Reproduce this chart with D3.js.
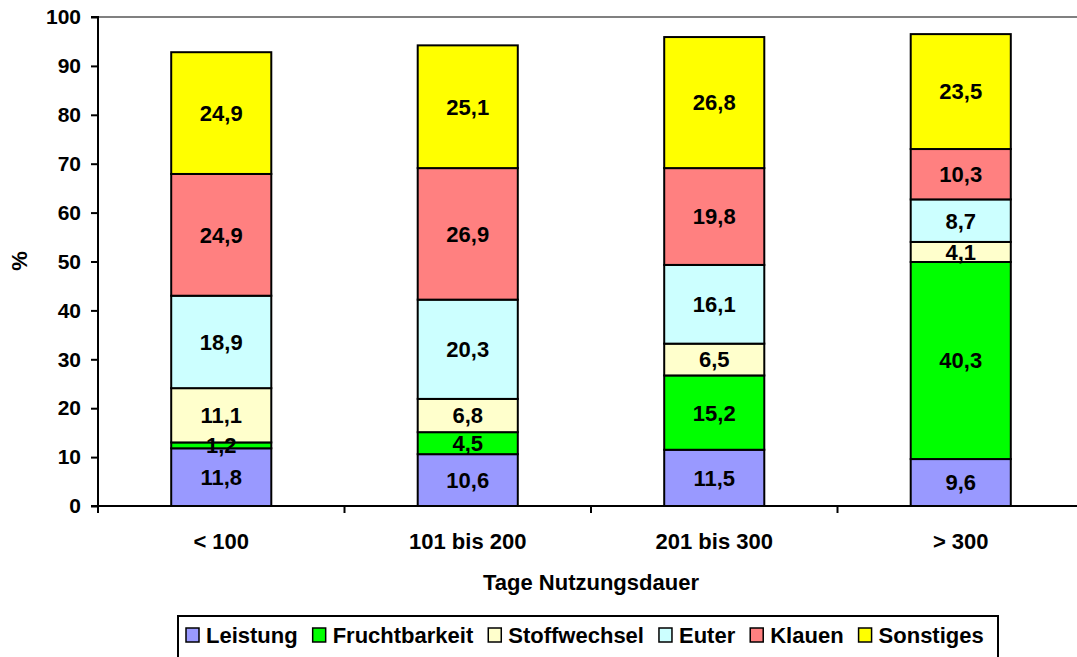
<!DOCTYPE html>
<html><head><meta charset="utf-8">
<script src="https://cdn.jsdelivr.net/npm/d3@7"></script>
<style>
html,body{margin:0;padding:0;background:#fff;}
svg text{font-family:"Liberation Sans",Arial,sans-serif;font-weight:bold;fill:#000;}
</style></head>
<body>
<svg id="chart" width="1077" height="657"></svg>
<script>
const categories = ["< 100", "101 bis 200", "201 bis 300", "> 300"];
const seriesNames = ["Leistung", "Fruchtbarkeit", "Stoffwechsel", "Euter", "Klauen", "Sonstiges"];
const seriesColors = ["#9999FF", "#00FF00", "#FFFFCC", "#CCFFFF", "#FF8080", "#FFFF00"];
const leistung      = [11.8, 10.6, 11.5, 9.6];
const fruchtbarkeit = [1.2, 4.5, 15.2, 40.3];
const stoffwechsel  = [11.1, 6.8, 6.5, 4.1];
const euter         = [18.9, 20.3, 16.1, 8.7];
const klauen        = [24.9, 26.9, 19.8, 10.3];
const sonstiges     = [24.9, 25.1, 26.8, 23.5];
const yTicks = [0, 10, 20, 30, 40, 50, 60, 70, 80, 90, 100];
const xTitle = "Tage Nutzungsdauer";
const yTitle = "%";

(function () {
const seriesValues = [leistung, fruchtbarkeit, stoffwechsel, euter, klauen, sonstiges];
const table = categories.map((c, i) => {
  const row = {cat: c};
  seriesNames.forEach((s, j) => row[s] = seriesValues[j][i]);
  return row;
});
const stacked = d3.stack().keys(seriesNames)(table);

const svg = d3.select("#chart");
const pLeft = 98, pRight = 1084, pTop = 17, pBottom = 506;

const x = d3.scaleBand().domain(categories).range([pLeft, pRight])
  .paddingInner(0.594).paddingOuter(0.297);
const y = d3.scaleLinear().domain([0, 100]).range([pBottom, pTop]);

// top border line of plot area
svg.append("line").attr("x1", pLeft).attr("x2", 1077).attr("y1", pTop).attr("y2", pTop)
  .attr("stroke", "#808080").attr("stroke-width", 2);

// bars
const groups = svg.append("g").selectAll("g").data(stacked).join("g")
  .attr("fill", (d, i) => seriesColors[i]);
groups.selectAll("rect").data(d => d).join("rect")
  .attr("x", d => x(d.data.cat))
  .attr("width", x.bandwidth())
  .attr("y", d => y(d[1]))
  .attr("height", d => y(d[0]) - y(d[1]))
  .attr("stroke", "#000").attr("stroke-width", 2);

// bar labels
const lab = svg.append("g");
stacked.forEach(s => {
  s.forEach(d => {
    const v = d[1] - d[0];
    lab.append("text")
      .attr("x", x(d.data.cat) + x.bandwidth() / 2)
      .attr("y", y((d[0] + d[1]) / 2))
      .attr("dy", "0.36em")
      .attr("text-anchor", "middle")
      .style("font-size", "22px")
      .text(d3.format(".1f")(v).replace(".", ","));
  });
});

// y axis
const yAxis = d3.axisLeft(y).tickValues(yTicks).tickSize(7).tickPadding(10).tickFormat(d3.format("d"));
const gy = svg.append("g").attr("transform", `translate(${pLeft},0)`).call(yAxis);
gy.select(".domain").attr("stroke", "#000").attr("stroke-width", 2).attr("d", `M-7,${pTop}H0V${pBottom}H-7`);
gy.selectAll(".tick line").attr("stroke", "#000").attr("stroke-width", 2);
gy.selectAll(".tick text").style("font-size", "21px").attr("font-family", null);
gy.attr("font-family", null).attr("font-size", null);

// x axis
svg.append("line").attr("x1", pLeft - 1).attr("x2", 1077).attr("y1", pBottom).attr("y2", pBottom)
  .attr("stroke", "#000").attr("stroke-width", 2);
const xb = d3.scaleLinear().domain([0, categories.length]).range([pLeft, pRight]);
svg.append("g").selectAll("line").data(d3.range(categories.length + 1)).join("line")
  .attr("x1", d => xb(d)).attr("x2", d => xb(d))
  .attr("y1", pBottom).attr("y2", pBottom + 7)
  .attr("stroke", "#000").attr("stroke-width", 2);
svg.append("g").selectAll("text").data(categories).join("text")
  .attr("x", d => x(d) + x.bandwidth() / 2)
  .attr("y", 549)
  .attr("text-anchor", "middle")
  .style("font-size", "22px")
  .text(d => d);

// axis titles
svg.append("text").attr("x", (pLeft + pRight) / 2).attr("y", 590)
  .attr("text-anchor", "middle").style("font-size", "22px").text(xTitle);
svg.append("text").attr("transform", "translate(27,261) rotate(-90)")
  .attr("text-anchor", "middle").style("font-size", "22px").text(yTitle);

// legend
const lg = svg.append("g");
lg.append("rect").attr("x", 178).attr("y", 616).attr("width", 820).attr("height", 60)
  .attr("fill", "#fff").attr("stroke", "#000").attr("stroke-width", 2);
let cx = 186;
seriesNames.forEach((s, i) => {
  lg.append("rect").attr("x", cx).attr("y", 628).attr("width", 13).attr("height", 14)
    .attr("fill", seriesColors[i]).attr("stroke", "#000").attr("stroke-width", 1.5);
  const t = lg.append("text").attr("x", cx + 20).attr("y", 643)
    .style("font-size", "22px").text(s);
  const w = t.node().getComputedTextLength();
  cx = cx + 20 + w + 15;
});
})();
</script>
</body></html>
